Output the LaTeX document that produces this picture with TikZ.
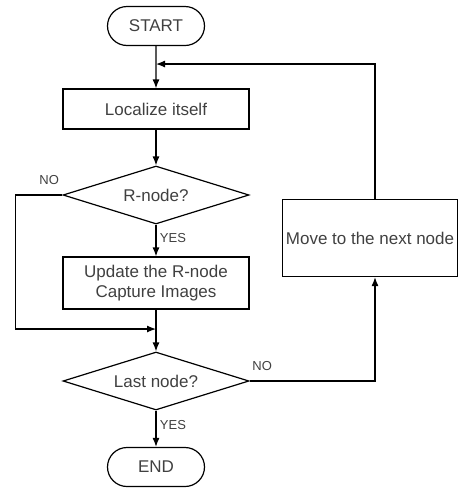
\documentclass[tikz,border=0pt]{standalone}
\usepackage{fontspec}
\setmainfont{Liberation Sans}
\usetikzlibrary{shapes.geometric, shapes.misc, arrows.meta, positioning}
\tikzstyle{terminal} = [rounded rectangle, inner sep = 2pt, minimum width = 101pt, minimum height = 39pt, text centered, draw = black, line width = 1.2pt, text = black!75, font = \fontsize{17}{20}\selectfont]
\tikzstyle{process} = [rectangle, inner sep = 1pt, minimum width = 186pt, minimum height = 40pt, text centered, align = center, draw = black, line width = 1.2pt, text = black!75, font = \fontsize{17}{20}\selectfont]
\tikzstyle{decision} = [diamond, aspect = 3.2, inner sep = 0pt, minimum width = 186pt, minimum height = 58pt, text centered, draw = black, line width = 1.2pt, text = black!75, font = \fontsize{17}{20}\selectfont]
\tikzstyle{arrow} = [line width = 1.2pt, -{Latex[length = 9pt, width = 7pt]}]
\tikzstyle{answer} = [text = black!75, font = \fontsize{13}{15}\selectfont]

\begin{document}
\begin{tikzpicture}[node distance = 86pt]
	\useasboundingbox (0,0) rectangle (468pt,-491pt);
	\node (start)[terminal] at (156pt,-26pt){START};
	\node (local)[process, below of = start, yshift = 3pt]{Localize itself};
	\node (rnode)[decision, below of = local]{R-node?};
	\node (update)[process, below of = rnode, yshift = -2pt, minimum height = 52pt]{Update the R-node\\Capture Images};
	\node (last)[decision, below of = update, yshift = -12pt]{Last node?};
	\node (end)[terminal, below of = last]{END};
	\node (move)[process, right of = rnode, xshift = 128pt, yshift = -43pt, minimum width = 175pt, minimum height = 77pt]{Move to the next node};
	\coordinate (join1) at ([yshift = -38pt]start.center);
	\coordinate (join2) at ([yshift = -46pt]update.center);
	
	\draw [arrow] (start) -- (local);
	\draw [arrow] (local) -- (rnode);
	\draw [arrow] (rnode) -- node[answer, right, yshift = 2pt]{YES} (update);
	\draw [arrow] (update) -- (last);
	\draw [arrow] (last) -- node[answer, right, yshift = 4pt]{YES} (end);
	
	\draw [arrow] (rnode.west) -- node[answer, above, pos = 0.28, yshift = 6pt]{NO} ++(-47pt,0) |- (join2);
	\draw [arrow] (last.east) -| node[answer, above, pos = 0.05, yshift = 6pt]{NO} ([xshift = 5pt]move.south);
	\draw [arrow] ([xshift = 5pt]move.north) |- (join1);
\end{tikzpicture}
\end{document}
